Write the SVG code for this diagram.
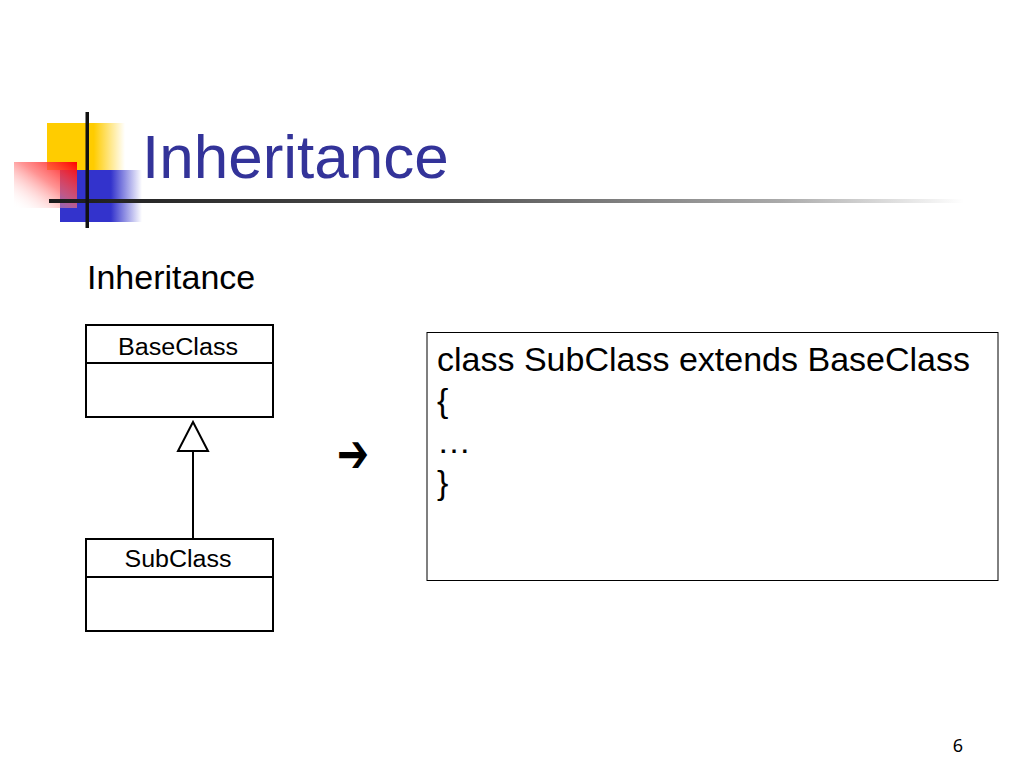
<svg xmlns="http://www.w3.org/2000/svg" width="1024" height="768" viewBox="0 0 1024 768">
<defs>
<linearGradient id="gy" x1="0" y1="0" x2="1" y2="0">
<stop offset="0" stop-color="#FFCC00"/><stop offset="0.6" stop-color="#FFCC00"/><stop offset="1" stop-color="#FFCC00" stop-opacity="0"/>
</linearGradient>
<linearGradient id="gb" x1="0" y1="0" x2="1" y2="0">
<stop offset="0" stop-color="#3333CC"/><stop offset="0.62" stop-color="#3333CC"/><stop offset="1" stop-color="#3333CC" stop-opacity="0"/>
</linearGradient>
<linearGradient id="gr" x1="1" y1="0" x2="0" y2="1">
<stop offset="0" stop-color="#FF0000"/><stop offset="0.45" stop-color="#FF6666" stop-opacity="0.7"/><stop offset="1" stop-color="#FFFFFF" stop-opacity="0"/>
</linearGradient>
<linearGradient id="gl" x1="0" y1="0" x2="1" y2="0">
<stop offset="0" stop-color="#1a1a1a"/><stop offset="0.45" stop-color="#555555"/><stop offset="0.8" stop-color="#aaaaaa"/><stop offset="1" stop-color="#ffffff"/>
</linearGradient>
<style>
.t{font-family:"Liberation Sans",Arial,sans-serif;fill:#000}
.box{fill:#fff;stroke:#000;stroke-width:2}
.ln{stroke:#000;stroke-width:2;fill:none}
.uml{font-family:"Liberation Sans",Arial,sans-serif;font-size:23px;fill:#000;text-anchor:middle}
</style>
</defs>
<rect width="1024" height="768" fill="#fff"/>
<g id="logo">
<rect x="47" y="123" width="78" height="47" fill="url(#gy)"/>
<rect x="60" y="170" width="82" height="52" fill="url(#gb)"/>
<rect x="14" y="162" width="63" height="46" fill="url(#gr)"/>
<rect x="49" y="199" width="915" height="4" fill="url(#gl)"/>
<rect x="85.5" y="112" width="3.5" height="116" fill="#111"/>
</g>
<text id="title" x="142" y="178" font-family="Liberation Sans, Arial, sans-serif" font-size="62" fill="#333399">Inheritance</text>
<text id="subtitle" class="t" x="87" y="289" font-size="34">Inheritance</text>
<g id="baseclass">
<rect class="box" x="86" y="325" width="187" height="92"/>
<line class="ln" x1="86" y1="363" x2="273" y2="363"/>
<text class="uml" x="178" y="355" textLength="120" lengthAdjust="spacingAndGlyphs">BaseClass</text>
</g>
<g id="subclass">
<rect class="box" x="86" y="539" width="187" height="92"/>
<line class="ln" x1="86" y1="577" x2="273" y2="577"/>
<text class="uml" x="178" y="567" textLength="107" lengthAdjust="spacingAndGlyphs">SubClass</text>
</g>
<g id="connectors">
<line class="ln" x1="193" y1="451" x2="193" y2="539"/>
<polygon points="193,422 178,451 208,451" fill="#fff" stroke="#000" stroke-width="2" stroke-linejoin="miter"/>
</g>
<text id="arrow" x="337" y="472" font-family="DejaVu Sans, sans-serif" font-size="54" font-weight="bold" fill="#000" textLength="32" lengthAdjust="spacingAndGlyphs">➔</text>
<g id="code">
<rect x="427" y="332.5" width="571" height="248" fill="#fff" stroke="#000" stroke-width="1"/>
<text class="t" x="437" y="371" font-size="34" textLength="533" lengthAdjust="spacingAndGlyphs">class SubClass extends BaseClass</text>
<text class="t" x="437" y="412" font-size="34">{</text>
<text class="t" x="437" y="453" font-size="34">…</text>
<text class="t" x="437" y="494" font-size="34">}</text>
</g>
<text id="page" x="958" y="752" font-family="Noto Sans, Open Sans, sans-serif" font-size="18" fill="#000" text-anchor="middle">6</text>
</svg>
